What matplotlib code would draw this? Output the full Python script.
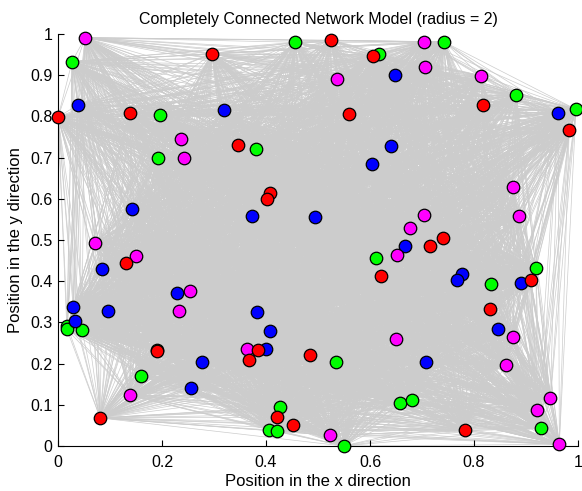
import matplotlib
matplotlib.use("Agg")
import matplotlib.pyplot as plt
import numpy as np
from matplotlib.collections import LineCollection

plt.rcParams['font.family'] = ['Liberation Sans', 'DejaVu Sans']

# node positions, one list pair per colour group
red_x = [0.296, 0.000, 0.138, 0.347, 0.408, 0.401, 0.524, 0.605, 0.817, 0.983,
         0.560, 0.740, 0.130, 0.190, 0.385, 0.367, 0.485, 0.081, 0.422, 0.451,
         0.716, 0.622, 0.909, 0.831, 0.782]
red_y = [0.952, 0.798, 0.807, 0.731, 0.615, 0.600, 0.985, 0.947, 0.828, 0.766,
         0.805, 0.505, 0.443, 0.231, 0.232, 0.209, 0.222, 0.068, 0.070, 0.050,
         0.486, 0.413, 0.402, 0.333, 0.038]

green_x = [0.027, 0.456, 0.196, 0.381, 0.193, 0.742, 0.617, 0.881, 0.996, 0.018,
           0.017, 0.046, 0.191, 0.160, 0.427, 0.406, 0.422, 0.612, 0.832, 0.919,
           0.535, 0.657, 0.680, 0.928, 0.549]
green_y = [0.933, 0.980, 0.803, 0.721, 0.698, 0.981, 0.952, 0.853, 0.817, 0.290,
           0.283, 0.282, 0.234, 0.171, 0.095, 0.039, 0.036, 0.457, 0.392, 0.432,
           0.203, 0.104, 0.112, 0.043, 0.000]

blue_x = [0.038, 0.319, 0.142, 0.373, 0.494, 0.648, 0.962, 0.640, 0.603, 0.085,
          0.229, 0.029, 0.097, 0.033, 0.383, 0.407, 0.400, 0.276, 0.255, 0.667,
          0.776, 0.767, 0.891, 0.846, 0.708]
blue_y = [0.828, 0.816, 0.574, 0.558, 0.556, 0.900, 0.809, 0.727, 0.684, 0.430,
          0.371, 0.337, 0.327, 0.304, 0.325, 0.280, 0.235, 0.203, 0.140, 0.485,
          0.417, 0.403, 0.395, 0.284, 0.203]

magenta_x = [0.052, 0.237, 0.242, 0.703, 0.537, 0.706, 0.813, 0.874, 0.887, 0.704,
             0.677, 0.072, 0.150, 0.253, 0.233, 0.363, 0.138, 0.651, 0.874, 0.649,
             0.861, 0.947, 0.922, 0.523, 0.964]
magenta_y = [0.991, 0.744, 0.698, 0.981, 0.891, 0.919, 0.899, 0.628, 0.558, 0.560,
             0.528, 0.492, 0.461, 0.376, 0.327, 0.235, 0.123, 0.463, 0.265, 0.259,
             0.196, 0.116, 0.088, 0.026, 0.004]

groups = [(green_x, green_y, (0, 1, 0)),
          (blue_x, blue_y, (0, 0, 1)),
          (magenta_x, magenta_y, (1, 0, 1)),
          (red_x, red_y, (1, 0, 0))]

fig = plt.figure(figsize=(5.82, 4.91), dpi=100)
ax = fig.add_axes([0.0997, 0.0917, 0.8935, 0.8391])

# every node is linked to every other one (radius 2 covers the unit square)
all_x = np.concatenate([g[0] for g in groups])
all_y = np.concatenate([g[1] for g in groups])
pts = np.column_stack([all_x, all_y])
i, j = np.triu_indices(len(pts), k=1)
segs = np.stack([pts[i], pts[j]], axis=1)
ax.add_collection(LineCollection(segs, colors=(0.8, 0.8, 0.8), linewidths=0.5, zorder=1))

for gx, gy, col in groups:
    ax.plot(gx, gy, 'o', markersize=9, markerfacecolor=col,
            markeredgecolor='k', markeredgewidth=0.9, zorder=3)

ax.set_xlim(0, 1)
ax.set_ylim(0, 1)
ax.set_xticks(np.arange(0, 1.01, 0.2))
ax.set_xticklabels(['0', '0.2', '0.4', '0.6', '0.8', '1'])
ax.set_yticks(np.arange(0, 1.01, 0.1))
ax.set_yticklabels(['0', '0.1', '0.2', '0.3', '0.4', '0.5', '0.6', '0.7', '0.8', '0.9', '1'])
ax.tick_params(direction='in', labelsize=11.5, length=4, width=0.8)
ax.tick_params(axis='x', pad=6.5)
ax.tick_params(axis='y', pad=4)
for s in ['top', 'right']:
    ax.spines[s].set_visible(False)
for s in ['left', 'bottom']:
    ax.spines[s].set_linewidth(0.8)

ax.set_xlabel('Position in the x direction', fontsize=12, labelpad=3)
ax.set_ylabel('Position in the y direction', fontsize=12, labelpad=5)
ax.set_title('Completely Connected Network Model (radius = 2)', fontsize=11.5, pad=7)

for art in ax.get_children():
    if hasattr(art, 'set_clip_on'):
        art.set_clip_on(False)

fig.savefig('out.png', dpi=100)
